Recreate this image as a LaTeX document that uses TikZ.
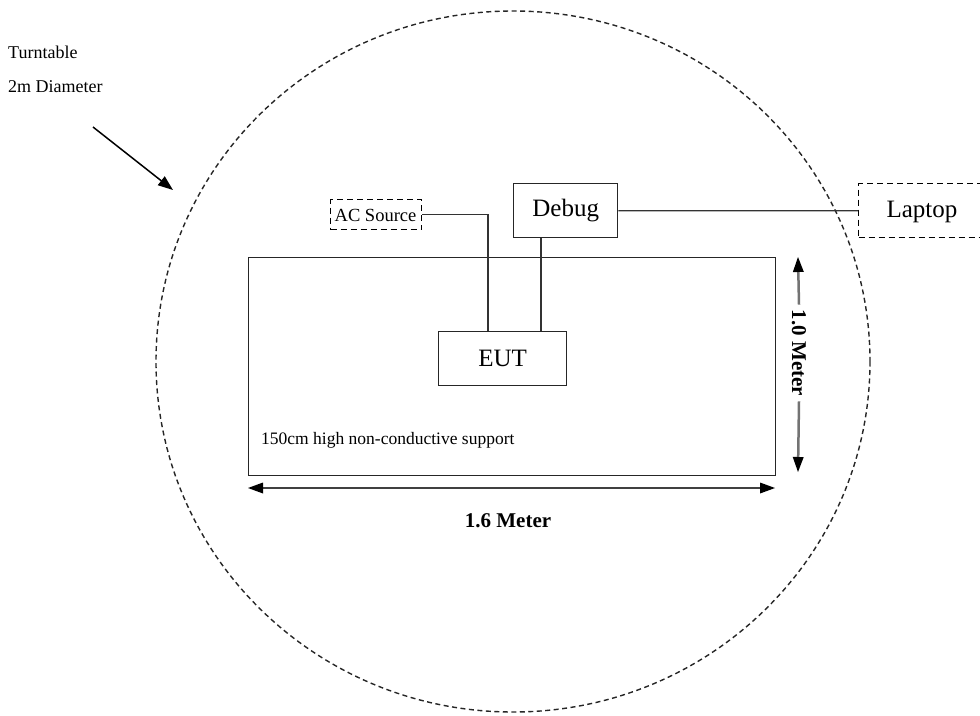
\documentclass[tikz,border=0pt]{standalone}
\usepackage{fontspec}
\setmainfont{Liberation Serif}
\usetikzlibrary{arrows.meta}
\begin{document}
\begin{tikzpicture}[x=1pt,y=-1pt,
  box/.style={draw,line width=1.4pt,inner sep=0pt,draw=black!85},
  dbox/.style={draw,line width=1.3pt,inner sep=0pt,dash pattern=on 6pt off 4pt},
  wire/.style={line width=1.3pt,draw=black!80},
  dimtip/.tip={Triangle[length=15pt,width=11pt,color=black,line width=0pt]},
  lbl/.style={font=\fontsize{18}{20}\selectfont,anchor=west,inner sep=0pt}]
\useasboundingbox (0,0) rectangle (980,715);
% turntable
\draw[line width=1.4pt,dash pattern=on 5pt off 3.5pt,draw=black!85] (513,361.5) ellipse [x radius=357, y radius=350.5];
\node[lbl] (tt) at (8,52) {Turntable};
\node[lbl] (dia) at (8,87) {2m Diameter};
\coordinate (a1) at (93,127);
\coordinate (a2) at (173,190);
\draw[line width=1.5pt,-{Triangle[length=15pt,width=11pt]}] (a1) -- (a2);
% table
\node[box,minimum width=527pt,minimum height=218pt,anchor=north west] (tab) at (248,257) {};
\node[lbl,font=\fontsize{17.5}{20}\selectfont] (sup) at (261,440) {150cm high non-conductive support};
% boxes
\node[box,minimum width=128pt,minimum height=54pt,anchor=north west,font=\fontsize{25}{28}\selectfont] (eut) at (438,331) {EUT};
\node[box,minimum width=104pt,minimum height=54pt,anchor=north west,font=\fontsize{25}{28}\selectfont] (dbg) at (513,183) {Debug};
\node[dbox,minimum width=91pt,minimum height=30pt,anchor=north west] (ac) at (330,199) {};
\node[font=\fontsize{18.5}{20}\selectfont,inner sep=0pt] (actxt) at (375.5,215) {AC Source};
\node[dbox,minimum width=140pt,minimum height=54pt,anchor=north west] (lap) at (858,183) {};
\node[font=\fontsize{25}{28}\selectfont,inner sep=0pt] (laptxt) at (922,212) {Laptop};
% wires
\draw[wire] (ac.east) -| (eut.north -| 488,0);
\draw[wire] (dbg.south -| 541,0) -- (eut.north -| 541,0);
\draw[wire] (dbg.east) -- (lap.west);
% dimensions
\coordinate (h1) at (248,488);
\coordinate (h2) at (775,488);
\draw[line width=2pt,draw=black!75,dimtip-dimtip] (h1) -- (h2);
\node[font=\bfseries\fontsize{21}{24}\selectfont] (hl) at (508,521) {1.6 Meter};
\coordinate (v1) at (798,257);
\coordinate (v2) at (798,472);
\node[font=\bfseries\fontsize{21}{24}\selectfont,rotate=-90,inner sep=5pt] (vl) at (799,353) {1.0 Meter};
\draw[line width=2.5pt,draw=black!55,-dimtip] (vl.west) -- (v1);
\draw[line width=2.5pt,draw=black!55,-dimtip] (vl.east) -- (v2);
\end{tikzpicture}
\end{document}
